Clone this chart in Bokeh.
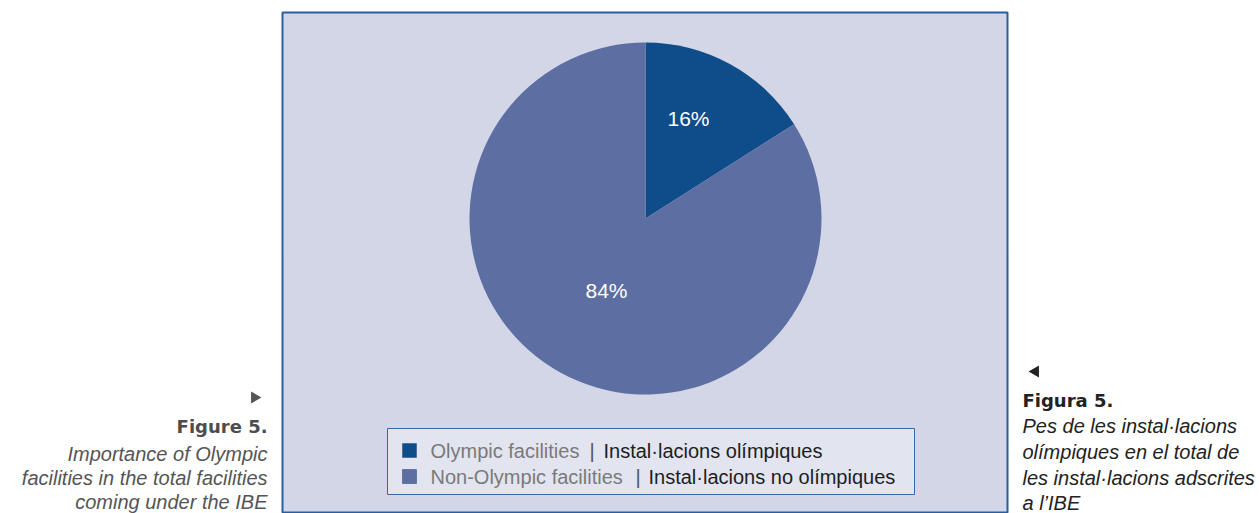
from math import pi
from bokeh.plotting import figure
from bokeh.models import Range1d, ColumnDataSource
from bokeh.core.properties import value
from bokeh.embed import file_html
from bokeh.resources import INLINE

# ---- data ----
categories = ["Olympic facilities", "Non-Olympic facilities"]
categories_ca = ["Instal·lacions olímpiques", "Instal·lacions no olímpiques"]
shares = [16, 84]
colors = ["#0f4c8a", "#5d6ea3"]
labels = [f"{v}%" for v in shares]

left_title = "Figure 5."
left_lines = ["Importance of Olympic", "facilities in the total facilities", "coming under the IBE"]
right_title = "Figura 5."
right_lines = ["Pes de les instal·lacions", "olímpiques en el total de", "les instal·lacions adscrites", "a l\u2019IBE"]

W, H = 1259, 513


def Y(sy):
    return H - sy


p = figure(width=W, height=H, output_backend="svg", toolbar_location=None,
           x_range=Range1d(0, W), y_range=Range1d(0, H),
           min_border=0, outline_line_color=None, background_fill_color="white")
p.axis.visible = False
p.grid.visible = False

# chart frame
p.quad(left=282, right=1007, top=Y(12), bottom=Y(512), fill_color="#d3d6e7",
       line_color="#2b5e9f", line_width=2)

# pie
cx, cy, r = 645, Y(218), 176
total = sum(shares)
starts, ends = [], []
ang = pi / 2
for v in shares:
    a = 2 * pi * v / total
    starts.append(ang - a)
    ends.append(ang)
    ang -= a
src = ColumnDataSource(dict(start=starts, end=ends, color=colors))
p.wedge(x=cx, y=cy, radius=r, start_angle="start", end_angle="end",
        fill_color="color", line_color=None, source=src)

# slice labels
p.text(x=[688, 606], y=[Y(118), Y(290)], text=labels, text_color="white",
       text_font=value("Liberation Sans"), text_font_size="21px",
       text_align="center", text_baseline="middle")

# legend box
p.quad(left=387, right=914, top=Y(428), bottom=Y(494), fill_color="#e2e4ef",
       line_color="#3a68a6", line_width=1)
row_y = [Y(450), Y(476)]
p.quad(left=[402, 402], right=[416, 416], top=[y + 7 for y in row_y],
       bottom=[y - 7 for y in row_y], fill_color=colors, line_color="#34588f", line_width=0.6)
p.text(x=[430, 430], y=row_y, text=categories, text_color="#7a7a7a",
       text_font=value("Liberation Sans"), text_font_size="20px", text_baseline="middle")
p.text(x=[589, 635], y=row_y, text=["|", "|"], text_color="#555555",
       text_font=value("Liberation Sans"), text_font_size="20px", text_baseline="middle")
p.text(x=[603, 648], y=row_y, text=categories_ca, text_color="#1e1e1e",
       text_font=value("Liberation Sans"), text_font_size="20px", text_baseline="middle")

# left caption
p.scatter(x=[254], y=[Y(397)], marker="triangle", angle=-pi / 2, size=12,
          fill_color="#555555", line_color=None)
p.text(x=[267], y=[Y(426)], text=[left_title], text_color="#4d4d4d",
       text_font=value("DejaVu Sans"), text_font_style="bold", text_font_size="18px",
       text_align="right", text_baseline="middle")
p.text(x=[267] * 3, y=[Y(453), Y(477), Y(501)], text=left_lines, text_color="#555555",
       text_font=value("Liberation Sans"), text_font_style="italic", text_font_size="20px",
       text_align="right", text_baseline="middle")

# right caption
p.scatter(x=[1035], y=[Y(371)], marker="triangle", angle=pi / 2, size=12,
          fill_color="#222222", line_color=None)
p.text(x=[1022], y=[Y(400)], text=[right_title], text_color="#222222",
       text_font=value("DejaVu Sans"), text_font_style="bold", text_font_size="18px",
       text_align="left", text_baseline="middle")
p.text(x=[1022] * 4, y=[Y(425), Y(451), Y(477), Y(502)], text=right_lines, text_color="#222222",
       text_font=value("Liberation Sans"), text_font_style="italic", text_font_size="20px",
       text_align="left", text_baseline="middle")

open("out.html", "w").write(file_html(p, INLINE))
